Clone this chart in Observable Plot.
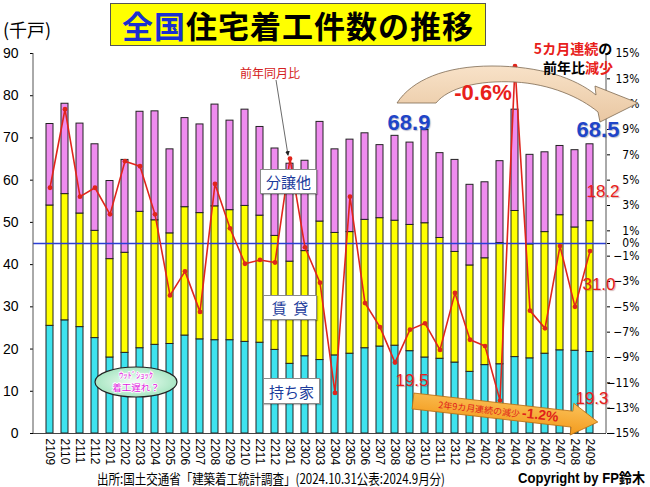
<!DOCTYPE html>
<html lang="ja"><head><meta charset="utf-8">
<script src="https://cdn.jsdelivr.net/npm/d3@7"></script>
<script src="https://cdn.jsdelivr.net/npm/@observablehq/plot@0.6"></script>
<style>
html,body{margin:0;padding:0;background:#fff;}
#wrap{position:relative;width:650px;height:487px;overflow:hidden;background:#fff;font-family:"Noto Sans CJK JP","Noto Sans",sans-serif;}
#wrap > svg{position:absolute;left:0;top:0;}
.abs{position:absolute;white-space:nowrap;line-height:1;}
.c{transform:translate(-50%,-50%);}
.box{position:absolute;background:#fff;border:1px solid #8a8a8a;box-shadow:1px 1px 1px rgba(0,0,0,.25);color:#1c3c9c;font-size:15px;display:flex;align-items:center;justify-content:center;line-height:1;}
.num{font-family:"Liberation Sans",Arial,sans-serif;}
</style></head><body>
<div id="wrap"></div>
<script>
// ---- data ----
const months = ["2109","2110","2111","2112","2201","2202","2203","2204","2205","2206","2207","2208","2209","2210","2211","2212","2301","2302","2303","2304","2305","2306","2307","2308","2309","2310","2311","2312","2401","2402","2403","2404","2405","2406","2407","2408","2409"];
const ownHouse = [25.5,26.8,25.2,22.6,18.0,19.1,20.2,21.0,21.2,23.2,22.3,22.1,22.1,21.7,21.5,19.8,16.5,18.3,17.4,18.5,18.9,20.2,20.6,20.8,19.5,18.0,17.7,16.8,14.6,16.2,16.4,18.1,17.8,18.9,19.7,19.6,19.3];
const rental = [28.5,29.9,26.9,25.4,23.3,23.7,32.3,29.5,26.2,30.4,29.9,31.7,30.8,32.2,30.1,27.0,24.2,24.9,32.8,29.0,28.8,30.4,30.4,29.6,29.9,31.8,28.6,26.2,25.2,25.3,28.7,34.6,27.0,28.8,32.0,29.2,31.0];
const condo = [19.3,21.4,21.3,20.5,18.5,22.0,23.7,25.8,19.9,21.1,21.0,24.1,21.2,22.8,21.0,20.7,23.2,21.4,23.6,19.8,21.9,20.5,17.3,20.1,19.5,22.1,20.1,21.8,19.1,18.0,19.4,24.0,21.2,18.9,16.4,18.3,18.2];
const yoyPct = [4.4,10.6,3.7,4.4,2.3,6.5,6.1,2.3,-4.1,-2.2,-5.4,4.7,1.2,-1.6,-1.3,-1.5,6.7,-0.3,-3.1,-11.8,3.7,-4.7,-6.6,-9.4,-6.8,-6.3,-8.4,-3.9,-7.6,-8.1,-12.4,14.0,-5.3,-6.7,-0.2,-5.0,-0.6];
const leftTicks = [0,10,20,30,40,50,60,70,80,90];
const rightTicks = [15,13,11,9,7,5,3,1,0,-1,-3,-5,-7,-9,-11,-13,-15];
const seriesNames = ["持ち家","賃貸","分譲他"];
const seriesColors = ["#3ee3ee","#ffff00","#ee8cee"];

// build tables
const seriesValues = [ownHouse, rental, condo];
const rows = months.flatMap((m,i)=>seriesNames.map((s,k)=>({month:m, series:s, value:seriesValues[k][i]})));
const pctToLeft = p => 45 + 3*p;   // right axis (-15%..15%) mapped onto left axis (0..90)
const yoy = months.map((m,i)=>({month:m, v:pctToLeft(yoyPct[i])}));
const fmtPct = v => { const p = Math.round((v-45)/3); return p<0 ? "\u2212"+Math.abs(p)+"%" : p+"%"; };

const W=650, H=470, ML=33, MR=44, MT=53, MB=37;
const plot = Plot.plot({
  width:W, height:H, marginTop:MT, marginBottom:MB, marginLeft:ML, marginRight:MR,
  x:{type:"band", domain:months, paddingInner:0.55, paddingOuter:0.34, label:null},
  y:{domain:[0,90], label:null},
  color:{domain:seriesNames, range:seriesColors},
  style:{fontFamily:"'Liberation Sans',Arial,sans-serif", fontSize:"12px", color:"#000", background:"transparent"},
  marks:[
    Plot.barY(rows, {x:"month", y:"value", fill:"series", stroke:"#222", strokeWidth:1, order:seriesNames}),
    Plot.ruleY([45], {stroke:"#2a3fd6", strokeWidth:1.5}),
    Plot.line(yoy, {x:"month", y:"v", stroke:"#e0251c", strokeWidth:1.6}),
    Plot.dot(yoy, {x:"month", y:"v", fill:"#e0251c", r:2.4}),
    Plot.ruleY([0], {stroke:"#444"}),
    Plot.axisY(leftTicks, {anchor:"left", tickSize:3, tickPadding:12, fontSize:14, label:null}),
    Plot.axisY(rightTicks.map(pctToLeft), {anchor:"right", tickSize:3, tickPadding:30, textAnchor:"end", tickFormat:fmtPct, fontSize:12, fontFamily:"'Liberation Sans Narrow','DejaVu Sans Condensed',Arial,sans-serif", label:null}),
    Plot.axisX({tickRotate:90, tickSize:0, tickPadding:5, fontSize:12, label:null})
  ]
});
const wrap = document.getElementById("wrap");
wrap.appendChild(plot);
const ps = d3.select(plot);
ps.append("line").attr("x1",ML).attr("x2",ML).attr("y1",MT).attr("y2",H-MB).attr("stroke","#555");
ps.append("line").attr("x1",W-MR).attr("x2",W-MR).attr("y1",MT).attr("y2",H-MB).attr("stroke","#555");

// ---- decorations ----
const deco = d3.select(wrap).append("svg").attr("width",650).attr("height",487).style("pointer-events","none");
const defs = deco.append("defs");
const g1 = defs.append("linearGradient").attr("id","tan").attr("x1",0).attr("y1",0).attr("x2",0).attr("y2",1);
g1.append("stop").attr("offset","0").attr("stop-color","#f8e2c8");
g1.append("stop").attr("offset","1").attr("stop-color","#e9c7a2");
const g2 = defs.append("linearGradient").attr("id","org").attr("x1",0).attr("y1",0).attr("x2",0).attr("y2",1);
g2.append("stop").attr("offset","0").attr("stop-color","#fbc25a");
g2.append("stop").attr("offset","1").attr("stop-color","#f39a1c");
const g3 = defs.append("radialGradient").attr("id","grn");
g3.append("stop").attr("offset","0").attr("stop-color","#f2fff6");
g3.append("stop").attr("offset","1").attr("stop-color","#a9e6c3");
const mk = defs.append("marker").attr("id","ah").attr("viewBox","0 0 10 10").attr("refX",8).attr("refY",5).attr("markerWidth",6).attr("markerHeight",6).attr("orient","auto");
mk.append("path").attr("d","M0,0 L10,5 L0,10 Z").attr("fill","#222");

// tan curved arrow
deco.append("path")
  .attr("d","M397,103 L436,103 C448,88 478,80 515,82 C550,84 580,97 598,112 L600,122 L638,103 L595,86 L596,95 C575,78 540,66 492,66 C445,66 412,80 397,103 Z")
  .attr("fill","url(#tan)").attr("stroke","#7d6a52").attr("stroke-width",0.8);

// pointer to 前年同月比
deco.append("line").attr("x1",276).attr("y1",80).attr("x2",288).attr("y2",155)
  .attr("stroke","#444").attr("stroke-width",0.8).attr("marker-end","url(#ah)");

// orange block arrow
const oa = deco.append("g").attr("transform","translate(413,401) rotate(6.5)");
oa.append("polygon").attr("points","0,-8 160,-8 160,-16 186,0 160,16 160,8 0,8")
  .attr("fill","url(#org)").attr("stroke","#b86e12").attr("stroke-width",0.8);
const ot = oa.append("text").attr("x",86).attr("y",4).attr("text-anchor","middle")
  .attr("fill","#e0201a").attr("font-family","'Noto Sans CJK JP',sans-serif");
ot.append("tspan").attr("font-size",9).text("2年9カ月連続の減少 ");
ot.append("tspan").attr("font-size",14).attr("font-weight","bold").attr("font-family","'Liberation Sans',Arial,sans-serif").text("-1.2%");

// wood-shock ellipse
deco.append("ellipse").attr("cx",136).attr("cy",382).attr("rx",41).attr("ry",15)
  .attr("fill","url(#grn)").attr("stroke","#222").attr("stroke-width",1.2);
deco.append("text").attr("x",136).attr("y",378).attr("text-anchor","middle").attr("font-size",8.5)
  .attr("fill","#e01ce0").attr("stroke","#fff").attr("stroke-width",1.5).attr("paint-order","stroke")
  .attr("font-family","'Noto Sans CJK JP',sans-serif").text("ｳｯﾄﾞｼｮｯｸ");
deco.append("text").attr("x",136).attr("y",391).attr("text-anchor","middle").attr("font-size",9.5)
  .attr("fill","#e01ce0").attr("stroke","#fff").attr("stroke-width",1.5).attr("paint-order","stroke")
  .attr("font-family","'Noto Sans CJK JP',sans-serif").text("着工遅れ？");

// ---- HTML annotations ----
function add(html, style, cls){
  const d = document.createElement("div");
  d.className = cls || "abs";
  d.innerHTML = html;
  Object.assign(d.style, style);
  wrap.appendChild(d);
  return d;
}
add('<span style="color:#1a2fd0">全国</span>住宅着工件数の推移',
  {left:"110px",top:"3px",width:"376px",height:"43px",background:"#ffff00",border:"1px solid #555",
   fontSize:"31px",fontWeight:"bold",display:"flex",alignItems:"center",justifyContent:"center",letterSpacing:"1px",boxSizing:"border-box"});
add('(千戸)', {left:"3px",top:"20px",fontSize:"18px"});
add('前年同月比', {left:"270px",top:"73px",fontSize:"12px",color:"#d42020"}, "abs c");
add('分譲他', {left:"260px",top:"169px",width:"55px",height:"23px"}, "box");
add('賃&nbsp;&nbsp;貸', {left:"263px",top:"295px",width:"52px",height:"23px"}, "box");
add('持ち家', {left:"263px",top:"378px",width:"55px",height:"24px"}, "box");
const blueNum = {fontSize:"22px",fontWeight:"bold",color:"#1f45c8",textShadow:"1px 1px 1px rgba(0,0,60,.25)"};
add('68.9', Object.assign({left:"409px",top:"123px"}, blueNum), "abs c num");
add('68.5', Object.assign({left:"598px",top:"130px"}, blueNum), "abs c num");
const redNum = {fontSize:"17px",color:"#e8201a",textShadow:"1px 1px 1px rgba(120,0,0,.3)"};
add('18.2', Object.assign({left:"603px",top:"191px"}, redNum), "abs c num");
add('31.0', Object.assign({left:"599px",top:"284px"}, redNum), "abs c num");
add('19.5', Object.assign({left:"412px",top:"380px"}, redNum), "abs c num");
add('19.3', Object.assign({left:"592px",top:"398px"}, redNum), "abs c num");
add('-0.6%', {left:"483px",top:"93px",fontSize:"22px",fontWeight:"bold",color:"#e8201a"}, "abs c num");
add('<span style="color:#e8201a">5カ月連続</span>の', {left:"573px",top:"48px",fontSize:"14px",fontWeight:"bold"}, "abs c");
add('前年比<span style="color:#e8201a">減少</span>', {left:"578px",top:"67px",fontSize:"14px",fontWeight:"bold"}, "abs c");

const f1 = add('出所:国土交通省「建築着工統計調査」(2024.10.31公表:2024.9月分)', {left:"97px",top:"471px",fontSize:"14px",transformOrigin:"0 0"});
const f2 = add('Copyright by FP鈴木', {left:"518px",top:"471px",fontSize:"14px",fontWeight:"bold",transformOrigin:"0 0",fontFamily:"'Liberation Sans',Arial,'Noto Sans CJK JP',sans-serif"});
function fit(el, w){ const r = el.getBoundingClientRect().width; if (r>0) el.style.transform = `scaleX(${w/r})`; }
fit(f1, 348); fit(f2, 127);
</script></body></html>
